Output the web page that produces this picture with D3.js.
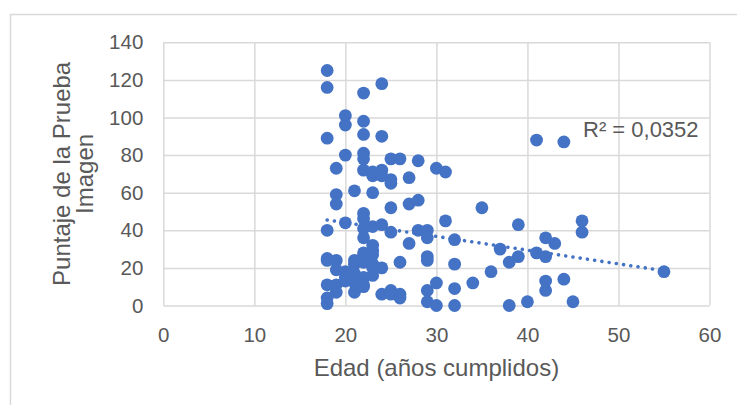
<!DOCTYPE html>
<html>
<head>
<meta charset="utf-8">
<script src="https://cdn.jsdelivr.net/npm/d3@7"></script>
<style>
    body { margin: 0; background: #fff; }
    svg text { font-family: "Liberation Sans", Arial, sans-serif; fill: #595959; }
</style>
</head>
<body>
<div id="chart"></div>
<script>
// Age (x) and test score (y) for each respondent, same order in both arrays
const ages = [
    18, 18, 18, 18, 18, 18, 18, 18, 18,
    19, 19, 19, 19, 19, 19, 19,
    20, 20, 20, 20, 20, 20, 20,
    21, 21, 21, 21, 21, 21,
    22, 22, 22, 22, 22, 22, 22, 22, 22, 22, 22, 22, 22, 22, 22, 22,
    23, 23, 23, 23, 23, 23, 23, 23, 23, 23,
    24, 24, 24, 24, 24, 24, 24,
    25, 25, 25, 25, 25, 25, 25,
    26, 26, 26, 26,
    27, 27, 27,
    28, 28, 28,
    29, 29, 29, 29, 29, 29,
    30, 30, 30,
    31, 31,
    32, 32, 32, 32,
    34, 35, 36, 37, 38, 38, 39, 39, 40, 41, 41,
    42, 42, 42, 42, 43, 44, 44, 45, 46, 46, 55
];
const scores = [
    125, 116, 89, 40, 25, 24, 11, 4, 1,
    73, 59, 54, 24, 19, 11, 7,
    101, 96, 80, 44, 18, 15, 13,
    61, 24, 22, 17, 12, 7,
    113, 98, 91, 81, 78, 72, 49, 46, 41, 36, 28, 26, 23, 15, 11, 10,
    71, 69, 60, 42, 32, 29, 27, 22, 20, 16,
    118, 90, 72, 69, 43, 20, 6,
    78, 67, 65, 52, 39, 8, 6,
    78, 23, 6, 4,
    68, 54, 33,
    77, 56, 40,
    40, 36, 26, 24, 8, 2,
    73, 12, 0,
    71, 45,
    35, 22, 9, 0,
    12, 52, 18, 30, 23, 0, 43, 26, 2, 88, 28,
    36, 26, 13, 8, 33, 87, 14, 2, 45, 39, 18
];

const xTicks = [0, 10, 20, 30, 40, 50, 60];
const yTicks = [0, 20, 40, 60, 80, 100, 120, 140];

// Linear trendline ends
const trendX = [18, 55];
const trendY = [45.5, 18.5];
const r2Label = "R² = 0,0352";

const xTitle = "Edad (años cumplidos)";
const yTitleLines = ["Puntaje de la Prueba", "Imagen"];

class AgeScatter {

    constructor(_config) {
        this.config = {
            parentElement: _config.parentElement,
            containerWidth: _config.containerWidth || 737,
            containerHeight: _config.containerHeight || 405,
            margin: _config.margin || {top: 42.3, right: 27.5, bottom: 99.5, left: 163.3}
        }
        this.initVis();
    }

    initVis() {
        let vis = this;

        vis.width = vis.config.containerWidth - vis.config.margin.left - vis.config.margin.right;
        vis.height = vis.config.containerHeight - vis.config.margin.top - vis.config.margin.bottom;

        vis.xScale = d3.scaleLinear()
            .domain([0, 60])
            .range([0, vis.width]);

        vis.yScale = d3.scaleLinear()
            .domain([0, 140])
            .range([vis.height, 0]);

        vis.svg = d3.select(vis.config.parentElement)
            .append('svg')
            .attr('width', vis.config.containerWidth)
            .attr('height', vis.config.containerHeight);

        // chart area border
        vis.svg.append('rect')
            .attr('x', 10.5)
            .attr('y', 14.5)
            .attr('width', 800)
            .attr('height', 500)
            .attr('fill', 'none')
            .attr('stroke', '#d9d9d9')
            .attr('stroke-width', 1.5);

        vis.chart = vis.svg.append('g')
            .attr('transform', `translate(${vis.config.margin.left},${vis.config.margin.top})`);

        vis.renderVis();
    }

    renderVis() {
        let vis = this;

        // gridlines
        vis.chart.append('g')
            .attr('class', 'grid')
            .call(d3.axisLeft(vis.yScale).tickValues(yTicks).tickSize(-vis.width).tickFormat(''))
            .call(g => g.select('.domain').remove());

        vis.chart.append('g')
            .attr('class', 'grid')
            .attr('transform', `translate(0,${vis.height})`)
            .call(d3.axisBottom(vis.xScale).tickValues(xTicks).tickSize(vis.height).tickFormat(''))
            .call(g => g.select('.domain').remove())
            .selectAll('line')
            .attr('transform', `translate(0,${-vis.height})`);

        vis.chart.selectAll('.grid line')
            .attr('stroke', '#d9d9d9')
            .attr('stroke-width', 1.5);

        // tick labels
        vis.chart.append('g')
            .attr('class', 'axis y-axis')
            .call(d3.axisLeft(vis.yScale).tickValues(yTicks).tickSize(0).tickPadding(20))
            .call(g => g.select('.domain').remove())
            .selectAll('text')
            .style('font-size', '20.5px');

        vis.chart.append('g')
            .attr('class', 'axis x-axis')
            .attr('transform', `translate(0,${vis.height})`)
            .call(d3.axisBottom(vis.xScale).tickValues(xTicks).tickSize(0).tickPadding(22))
            .call(g => g.select('.domain').remove())
            .selectAll('text')
            .style('font-size', '20.5px');

        // points
        vis.chart.selectAll('.dot')
            .data(ages.map((a, i) => ({x: a, y: scores[i]})))
            .join('circle')
            .attr('class', 'dot')
            .attr('cx', d => vis.xScale(d.x))
            .attr('cy', d => vis.yScale(d.y))
            .attr('r', 6.4)
            .attr('fill', '#4472c4');

        // dotted trendline
        vis.chart.append('line')
            .attr('x1', vis.xScale(trendX[0]))
            .attr('y1', vis.yScale(trendY[0]))
            .attr('x2', vis.xScale(trendX[1]))
            .attr('y2', vis.yScale(trendY[1]))
            .attr('stroke', '#4472c4')
            .attr('stroke-width', 3.6)
            .attr('stroke-linecap', 'round')
            .attr('stroke-dasharray', '0.01,7.3');

        vis.svg.append('text')
            .attr('x', 583)
            .attr('y', 137)
            .style('font-size', '22px')
            .text(r2Label);

        // axis titles
        vis.svg.append('text')
            .attr('x', vis.config.margin.left + vis.width / 2)
            .attr('y', 376)
            .attr('text-anchor', 'middle')
            .style('font-size', '24px')
            .text(xTitle);

        vis.svg.append('g')
            .attr('transform', `translate(0,${vis.config.margin.top + vis.height / 2}) rotate(-90)`)
            .selectAll('text')
            .data(yTitleLines)
            .join('text')
            .attr('x', 0)
            .attr('y', (d, i) => 70 + i * 23)
            .attr('text-anchor', 'middle')
            .style('font-size', '24px')
            .text(d => d);
    }
}

new AgeScatter({parentElement: '#chart'});
</script>
</body>
</html>
